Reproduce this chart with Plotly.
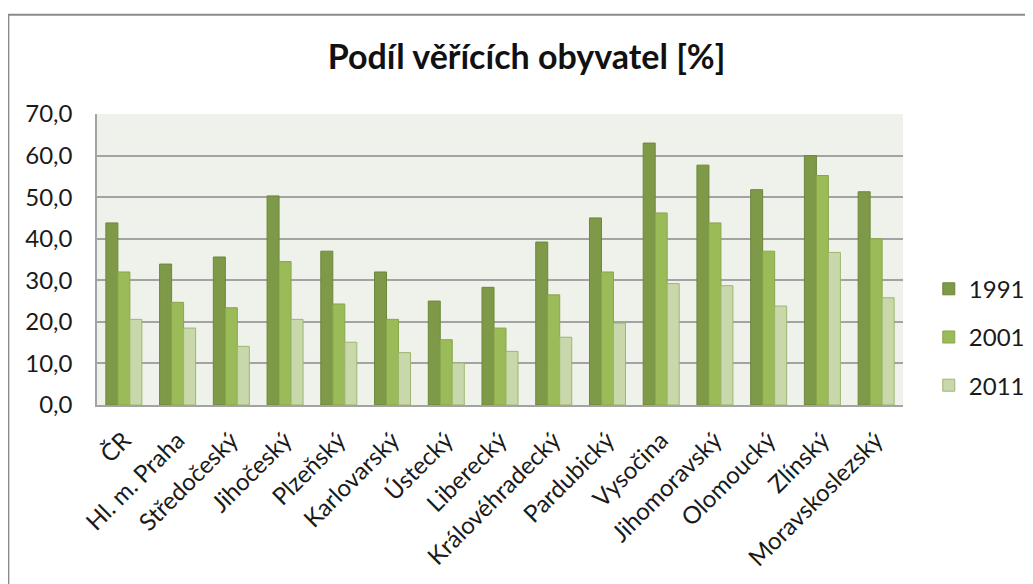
import plotly.graph_objects as go

categories = ["ČR", "Hl. m. Praha", "Středočeský", "Jihočeský", "Plzeňský", "Karlovarský",
              "Ústecký", "Liberecký", "Královéhradecký", "Pardubický", "Vysočina",
              "Jihomoravský", "Olomoucký", "Zlínský", "Moravskoslezský"]
v1991 = [43.8, 33.9, 35.6, 50.3, 37.0, 32.0, 25.0, 28.3, 39.2, 45.0, 63.0, 57.7, 51.8, 60.0, 51.3]
v2001 = [32.0, 24.7, 23.4, 34.5, 24.3, 20.6, 15.7, 18.5, 26.5, 32.0, 46.2, 43.8, 37.0, 55.2, 40.0]
v2011 = [20.6, 18.5, 14.1, 20.6, 15.1, 12.6, 10.1, 12.9, 16.3, 19.7, 29.2, 28.7, 23.8, 36.7, 25.8]
series_names = ["1991", "2001", "2011"]
y_ticks = [0, 10, 20, 30, 40, 50, 60, 70]

fills = ["#7e9a48", "#9bbb59", "#c8d8ab"]
lines = ["#6c873a", "#87a74a", "#9db66f"]

fig = go.Figure()
for name, vals, fc, lc in zip(series_names, [v1991, v2001, v2011], fills, lines):
    fig.add_trace(go.Bar(name=name, x=categories, y=vals, legendgroup=name,
                         marker=dict(color=fc, line=dict(color=lc, width=1))))

font = "Lato, 'Open Sans', sans-serif"
fig.update_layout(
    width=1033, height=584,
    margin=dict(l=89, r=138, t=105.5, b=187, autoexpand=False),
    paper_bgcolor="white", plot_bgcolor="#eff2ea",
    barmode="group", bargap=0.33, bargroupgap=0,
    separators=", ",
    font=dict(family=font, size=24, color="#1a1a1a"),
    title=dict(text="<b>Podíl věřících obyvatel [%]</b>", x=0.502, xanchor="center",
               y=0.916, yanchor="middle", font=dict(family=font, size=34, color="#111")),
    legend=dict(x=1.032, xanchor="left", y=0.233, yanchor="middle",
                font=dict(size=24), tracegroupgap=14, bgcolor="rgba(0,0,0,0)"),
    showlegend=True,
)
fig.update_yaxes(range=[0, 70], tickvals=y_ticks, tickformat=".1f",
                 showgrid=True, gridcolor="#a3a3a3", gridwidth=1.5,
                 showline=True, linecolor="#a3a3a3", linewidth=1.5,
                 ticks="", ticklabelstandoff=18, zeroline=False, fixedrange=True)
fig.update_xaxes(showline=True, linecolor="#a3a3a3", linewidth=1.5, ticks="",
                 tickangle=-45, showgrid=False, ticklabelstandoff=10)

fig.add_shape(type="rect", xref="paper", yref="paper",
              x0=-0.110, x1=1.2, y0=-0.7, y1=1.341,
              line=dict(color="#8a8a8a", width=2), fillcolor="rgba(0,0,0,0)", layer="below")

fig.write_html("out.html")
